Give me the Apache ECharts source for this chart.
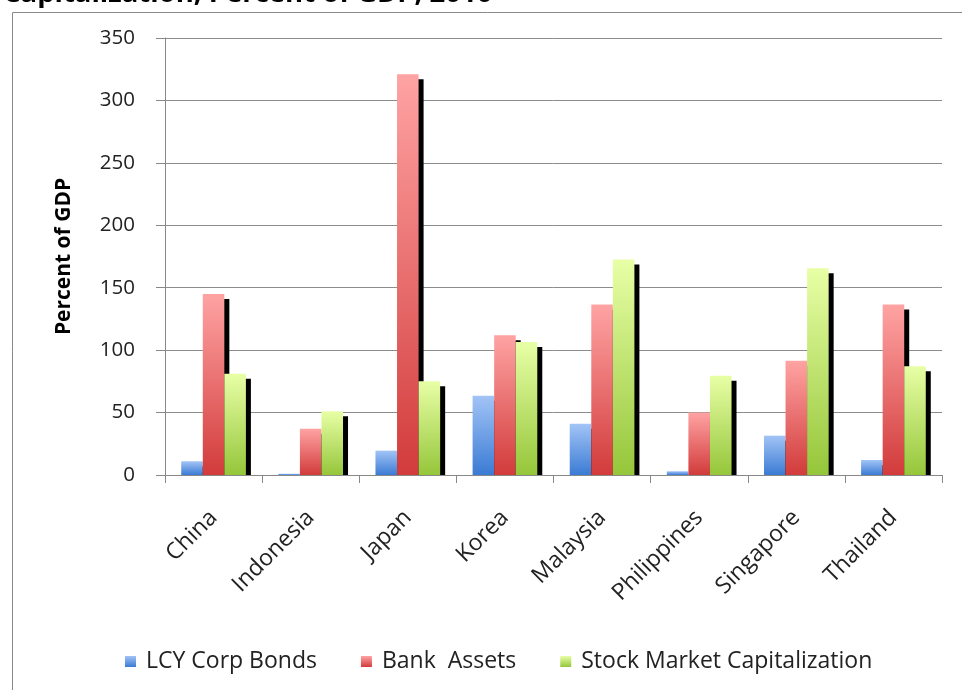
<!DOCTYPE html>
<html>
<head>
<meta charset="utf-8">
<script src="https://cdn.jsdelivr.net/npm/echarts@6/dist/echarts.min.js"></script>
<style>html,body{margin:0;padding:0;background:#fff}#c{width:962px;height:690px}</style>
</head>
<body>
<div id="c"></div>
<script>
const categories = ['China','Indonesia','Japan','Korea','Malaysia','Philippines','Singapore','Thailand'];
const seriesNames = ['LCY Corp Bonds','Bank  Assets','Stock Market Capitalization'];
const lcyCorpBonds = [11, 1, 19.5, 63.5, 41, 3, 31.5, 12];
const bankAssets = [145, 37, 321, 112, 136.5, 50, 91.5, 136.5];
const stockMarketCap = [81, 51, 75, 106.5, 172.5, 79.5, 165.5, 87];
const yTicks = [0, 50, 100, 150, 200, 250, 300, 350];

const FONT = 'Open Sans';
function grad(top, bottom){
  return {type:'linear', x:0, y:0, x2:0, y2:1, colorStops:[{offset:0,color:top},{offset:1,color:bottom}]};
}
const fills = [grad('#a2c4f6','#3b7bd4'), grad('#ffa3a3','#d23b3b'), grad('#e8ffa6','#95c63a')];

function makeRender(idx){
  return function(params, api){
    const cat = api.value(0), v = api.value(1);
    const base = api.coord([cat, 0]);
    const top = api.coord([cat, v]);
    const band = api.size([1, 0])[0];
    const barW = band * 0.222;
    const x = base[0] - barW * 1.5 + idx * barW;
    const h = base[1] - top[1];
    const children = [];
    if (h > 5) {
      children.push({type:'rect', shape:{x:x+5, y:top[1]+5, width:barW, height:h-5}, style:{fill:'#000'}});
    }
    children.push({type:'rect', shape:{x:x, y:top[1], width:barW, height:h}, style:{fill:fills[idx]}});
    return {type:'group', children:children};
  };
}
const dataSets = [lcyCorpBonds, bankAssets, stockMarketCap];
const series = dataSets.map((arr, i) => ({
  type:'custom', name:seriesNames[i],
  renderItem: makeRender(i),
  itemStyle:{color:fills[i]},
  encode:{x:0, y:1},
  data: arr.map((v, k) => [k, v])
}));

const chart = echarts.init(document.getElementById('c'), null, {renderer:'canvas'});
chart.setOption({
  animation:false,
  backgroundColor:'#fff',
  title:{text:'Capitalization, Percent of GDP, 2010', left:-2, top:-25,
    textStyle:{fontFamily:FONT, fontWeight:'bold', fontSize:27.5, color:'#000'}},
  graphic:[{type:'rect', shape:{x:12.5, y:12.5, width:1200, height:1000}, style:{fill:'none', stroke:'#8a8a8a', lineWidth:1}, silent:true, z:-1}],
  legend:{bottom:12, left:120, itemWidth:11, itemHeight:11, itemGap:44, icon:'rect',
    textStyle:{fontFamily:FONT, fontSize:23, color:'#222', padding:[0,0,0,5]}},
  grid:{left:165, right:20, top:38, bottom:215},
  xAxis:{type:'category', data:categories,
    axisLine:{lineStyle:{color:'#888'}},
    axisTick:{show:true, length:8, lineStyle:{color:'#888'}},
    axisLabel:{rotate:45, margin:39, fontFamily:FONT, fontSize:23, color:'#222'}},
  yAxis:{type:'value', min:0, max:350, interval:50,
    name:'Percent of GDP', nameLocation:'middle', nameGap:90,
    nameTextStyle:{fontFamily:FONT, fontWeight:'bold', fontSize:21, color:'#000'},
    axisLine:{show:true, lineStyle:{color:'#888'}},
    axisTick:{show:true, length:9, lineStyle:{color:'#888'}},
    splitLine:{lineStyle:{color:'#8c8c8c'}},
    axisLabel:{margin:30, fontFamily:FONT, fontSize:20.5, color:'#222',
      formatter:v => yTicks.includes(v) ? String(v) : ''}},
  series:series
});
</script>
</body>
</html>
